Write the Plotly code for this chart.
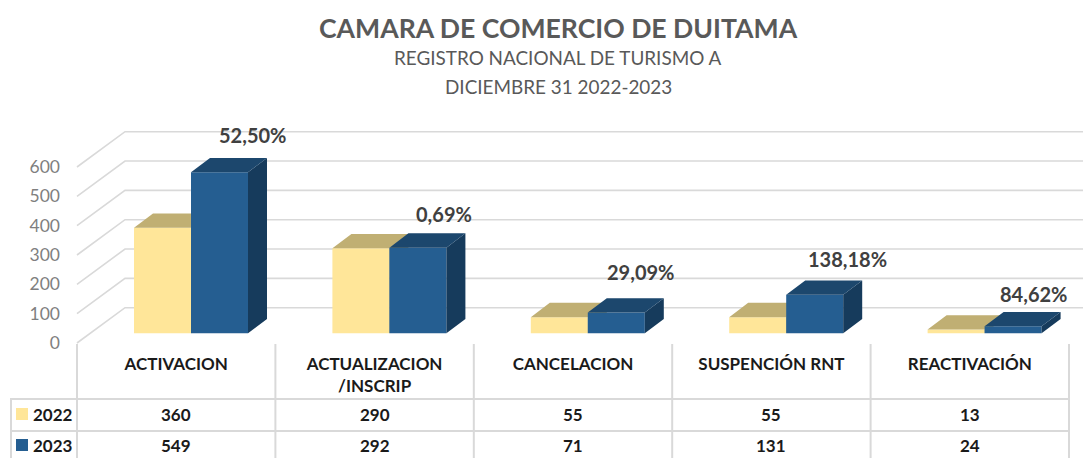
import plotly.graph_objects as go

categories = ["ACTIVACION", "ACTUALIZACION<br>/INSCRIP", "CANCELACION", "SUSPENCIÓN RNT", "REACTIVACIÓN"]
years = ["2022", "2023"]
values_2022 = [360, 290, 55, 55, 13]
values_2023 = [549, 292, 71, 131, 24]
change_labels = ["52,50%", "0,69%", "29,09%", "138,18%", "84,62%"]
y_ticks = [0, 100, 200, 300, 400, 500, 600]

W, H = 1083, 458
CAT_W, CAT0 = 198.4, 176.2
PX_Y = 176 / 600
BAR_W = 57 / CAT_W
DX, DY = 19 / CAT_W, 14.3 / PX_Y
GDX, GDY = 48 / CAT_W, 35.3 / PX_Y
FONT = "Lato"
GRID = "#D9D9D9"


def X(px):
    return (px - CAT0) / CAT_W


def P(py):
    return 1 - py / H


yr_main = [(343 - H) / PX_Y, 343 / PX_Y]
yr_bars = [(333.3 - H) / PX_Y, 333.3 / PX_Y]

fig = go.Figure()

# 3D wall and floor gridlines
gx, gy = [], []
for v in y_ticks:
    gx += [X(77), X(77) + GDX, X(W + 5), None]
    gy += [v, v + GDY, v + GDY, None]
fig.add_trace(go.Scatter(x=gx, y=gy, mode="lines", line=dict(color=GRID, width=1.6),
                         hoverinfo="skip", showlegend=False))


def faces(vals, off):
    top_x, top_y, side_x, side_y = [], [], [], []
    for i, v in enumerate(vals):
        l = i + off
        r = l + BAR_W
        top_x += [l, r, r + DX, l + DX, l, None]
        top_y += [v, v, v + DY, v + DY, v, None]
        side_x += [r, r + DX, r + DX, r, r, None]
        side_y += [0, DY, v + DY, v, 0, None]
    return top_x, top_y, side_x, side_y


def add_series(name, vals, off, front, top, side, axis):
    idx = list(range(len(vals)))
    tx, ty, sx, sy = faces(vals, off)
    fig.add_trace(go.Scatter(x=sx, y=sy, mode="lines", fill="toself", fillcolor=side, line=dict(width=0),
                             hoverinfo="skip", showlegend=False, yaxis=axis))
    fig.add_trace(go.Scatter(x=tx, y=ty, mode="lines", fill="toself", fillcolor=top, line=dict(width=0),
                             hoverinfo="skip", showlegend=False, yaxis=axis))
    fig.add_trace(go.Bar(x=idx, y=vals, width=BAR_W, offset=off, name=name, marker=dict(color=front, line=dict(width=0)),
                         showlegend=False, yaxis=axis))


add_series(years[0], values_2022, (134 - CAT0) / CAT_W, "#FFE699", "#C0AF73", "#BFAE73", "y2")
add_series(years[1], values_2023, (191 - CAT0) / CAT_W, "#255E91", "#1C476D", "#163B5C", "y3")

ann = []
# titles
ann.append(dict(text="<b>CAMARA DE COMERCIO DE DUITAMA</b>", x=558 / W, y=P(28), font=dict(size=26.6, color="#595959")))
ann.append(dict(text="REGISTRO NACIONAL DE TURISMO A", x=558 / W, y=P(58), font=dict(size=18.9, color="#595959")))
ann.append(dict(text="DICIEMBRE 31 2022-2023", x=558 / W, y=P(86), font=dict(size=18.9, color="#595959")))
for a in ann:
    a.update(xref="paper", yref="paper", showarrow=False)

# change labels above the 2023 bars
label_dx = [61, 55, 53, 61, 49]
label_dy = [37, 34, 40, 36, 32]
for i, t in enumerate(change_labels):
    ann.append(dict(text=f"<b>{t}</b>", x=i + (191 - CAT0) / CAT_W, y=values_2023[i], xref="x", yref="y3",
                    xshift=label_dx[i], yshift=label_dy[i], showarrow=False,
                    font=dict(size=20, color="#404040")))

# data table
rows_py = [414, 445]
for py, yr, vals in zip(rows_py, years, [values_2022, values_2023]):
    ann.append(dict(text=f"<b>{yr}</b>", x=53 / W, y=P(py), xref="paper", yref="paper", showarrow=False,
                    font=dict(size=17, color="#1a1a1a")))
    for i, v in enumerate(vals):
        ann.append(dict(text=f"<b>{v}</b>", x=i, y=P(py), xref="x", yref="paper", showarrow=False,
                        font=dict(size=17, color="#1a1a1a")))
for a in ann:
    a.update(xanchor="center", yanchor="middle")

shapes = []
for px in [77 + CAT_W * k for k in range(6)]:
    shapes.append(dict(type="line", xref="paper", yref="paper", x0=px / W, x1=px / W, y0=P(344), y1=P(458),
                       line=dict(color=GRID, width=2)))
shapes.append(dict(type="line", xref="paper", yref="paper", x0=11 / W, x1=11 / W, y0=P(399), y1=P(458),
                   line=dict(color=GRID, width=2)))
for py in [399, 431]:
    shapes.append(dict(type="line", xref="paper", yref="paper", x0=10 / W, x1=1070 / W, y0=P(py), y1=P(py),
                       line=dict(color=GRID, width=2)))
for py, col in zip(rows_py, ["#FFE699", "#255E91"]):
    shapes.append(dict(type="rect", xref="paper", yref="paper", x0=16 / W, x1=28 / W, y0=P(py + 6), y1=P(py - 6),
                       fillcolor=col, line=dict(width=0)))

fig.update_layout(
    width=W, height=H, margin=dict(l=0, r=0, t=0, b=0), autosize=False,
    paper_bgcolor="white", plot_bgcolor="white", font=dict(family=FONT),
    showlegend=False, barmode="overlay", annotations=ann, shapes=shapes,
    xaxis=dict(range=[X(0), X(W)], domain=[0, 1], tickmode="array", tickvals=list(range(5)), ticktext=categories,
               showgrid=False, zeroline=False, showline=False, ticks="",
               tickfont=dict(size=17, color="#1a1a1a", family=FONT, weight="bold"),
               anchor="free", position=P(352), automargin=False),
    yaxis=dict(range=yr_main, domain=[0, 1], tickmode="array", tickvals=y_ticks, showgrid=False, zeroline=False,
               showline=False, ticks="", tickfont=dict(size=17.5, color="#7F7F7F"),
               anchor="free", position=60 / W, automargin=False),
    yaxis2=dict(range=yr_bars, overlaying="y", visible=False),
    yaxis3=dict(range=yr_bars, overlaying="y", visible=False),
)

fig.write_html("out.html", config={"displayModeBar": False},
               post_script="document.body.style.margin='0';document.body.style.overflow='hidden';")
